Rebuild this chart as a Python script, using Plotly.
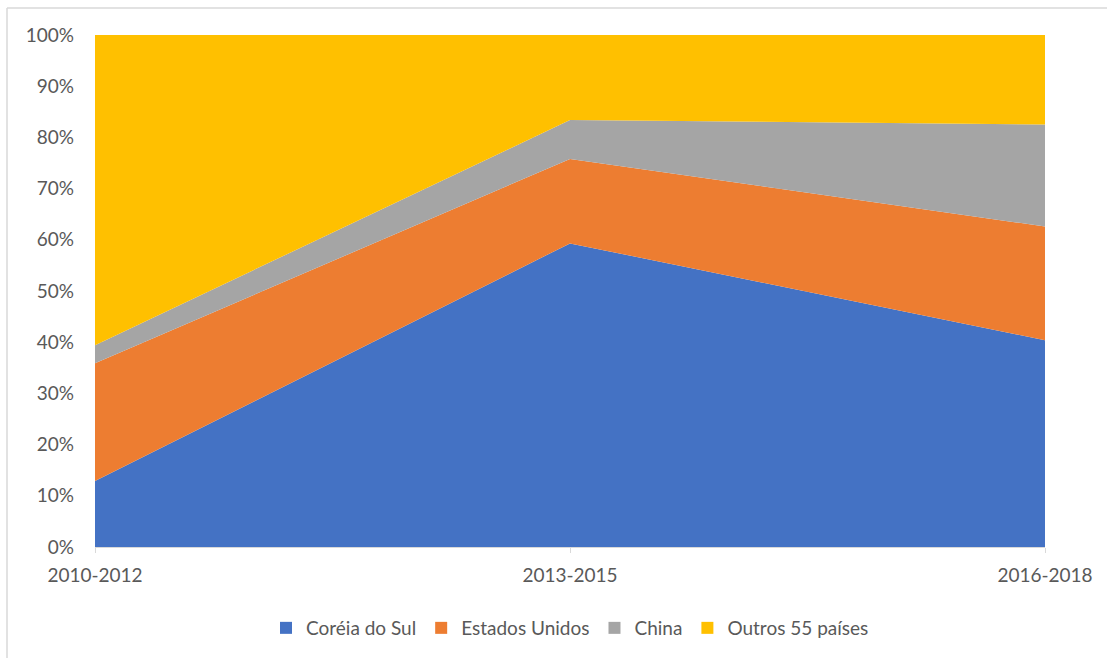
import plotly.graph_objects as go

periods = ["2010-2012", "2013-2015", "2016-2018"]
coreia = [12.9, 59.3, 40.4]
eua = [23.0, 16.5, 22.2]
china = [3.5, 7.6, 19.9]
outros = [60.6, 16.6, 17.5]

series = [
    ("Coréia do Sul", coreia, "#4472C4"),
    ("Estados Unidos", eua, "#ED7D31"),
    ("China", china, "#A5A5A5"),
    ("Outros 55 países", outros, "#FFC000"),
]

xpos = list(range(len(periods)))

fig = go.Figure()
for name, vals, col in series:
    fig.add_trace(go.Scatter(
        x=xpos, y=vals, name=name, mode="lines", showlegend=False,
        stackgroup="one", line=dict(width=0, color=col),
        fillcolor=col, legendgroup=name,
    ))
# legend entries with square markers
for name, vals, col in series:
    fig.add_trace(go.Scatter(
        x=[None], y=[None], name=name, mode="markers", legendgroup=name,
        marker=dict(symbol="square", size=13, color=col),
    ))

W, H = 1107, 658
L, R, T, B = 95, 62, 35, 110
pw, ph = W - L - R, H - T - B

fig.update_layout(
    width=W, height=H,
    margin=dict(l=L, r=R, t=T, b=B),
    paper_bgcolor="white", plot_bgcolor="white",
    font=dict(family="Lato, Carlito, Calibri, sans-serif", size=19, color="#595959"),
    showlegend=True,
    legend=dict(orientation="h", x=0.5, xanchor="center", y=-(628 - 548) / ph, yanchor="middle",
                font=dict(size=19, color="#595959"), itemwidth=30, traceorder="normal",
                tracegroupgap=0, itemsizing="constant"),
    xaxis=dict(range=[0, 2], tickvals=xpos, ticktext=periods, showgrid=False,
               showline=True, linecolor="#d9d9d9", linewidth=1,
               ticks="outside", ticklen=5, tickcolor="#d9d9d9", zeroline=False,
               ticklabelstandoff=6),
    yaxis=dict(range=[0, 100], tickvals=list(range(0, 101, 10)),
               ticktext=[f"{v}%" for v in range(0, 101, 10)],
               showgrid=True, gridcolor="#d9d9d9", zeroline=False, showline=False,
               ticks="", ticklabelstandoff=20),
)

# outer chart border (top and left visible)
bx0 = (7 - L) / pw
by1 = (H - B - 8) / ph
fig.add_shape(type="line", xref="paper", yref="paper", x0=bx0, x1=(W + 20 - L) / pw, y0=by1, y1=by1,
              line=dict(color="#d9d9d9", width=1.5))
fig.add_shape(type="line", xref="paper", yref="paper", x0=bx0, x1=bx0, y0=by1, y1=-(H + 20 - (H - B)) / ph,
              line=dict(color="#d9d9d9", width=1.5))

fig.write_html("out.html")
